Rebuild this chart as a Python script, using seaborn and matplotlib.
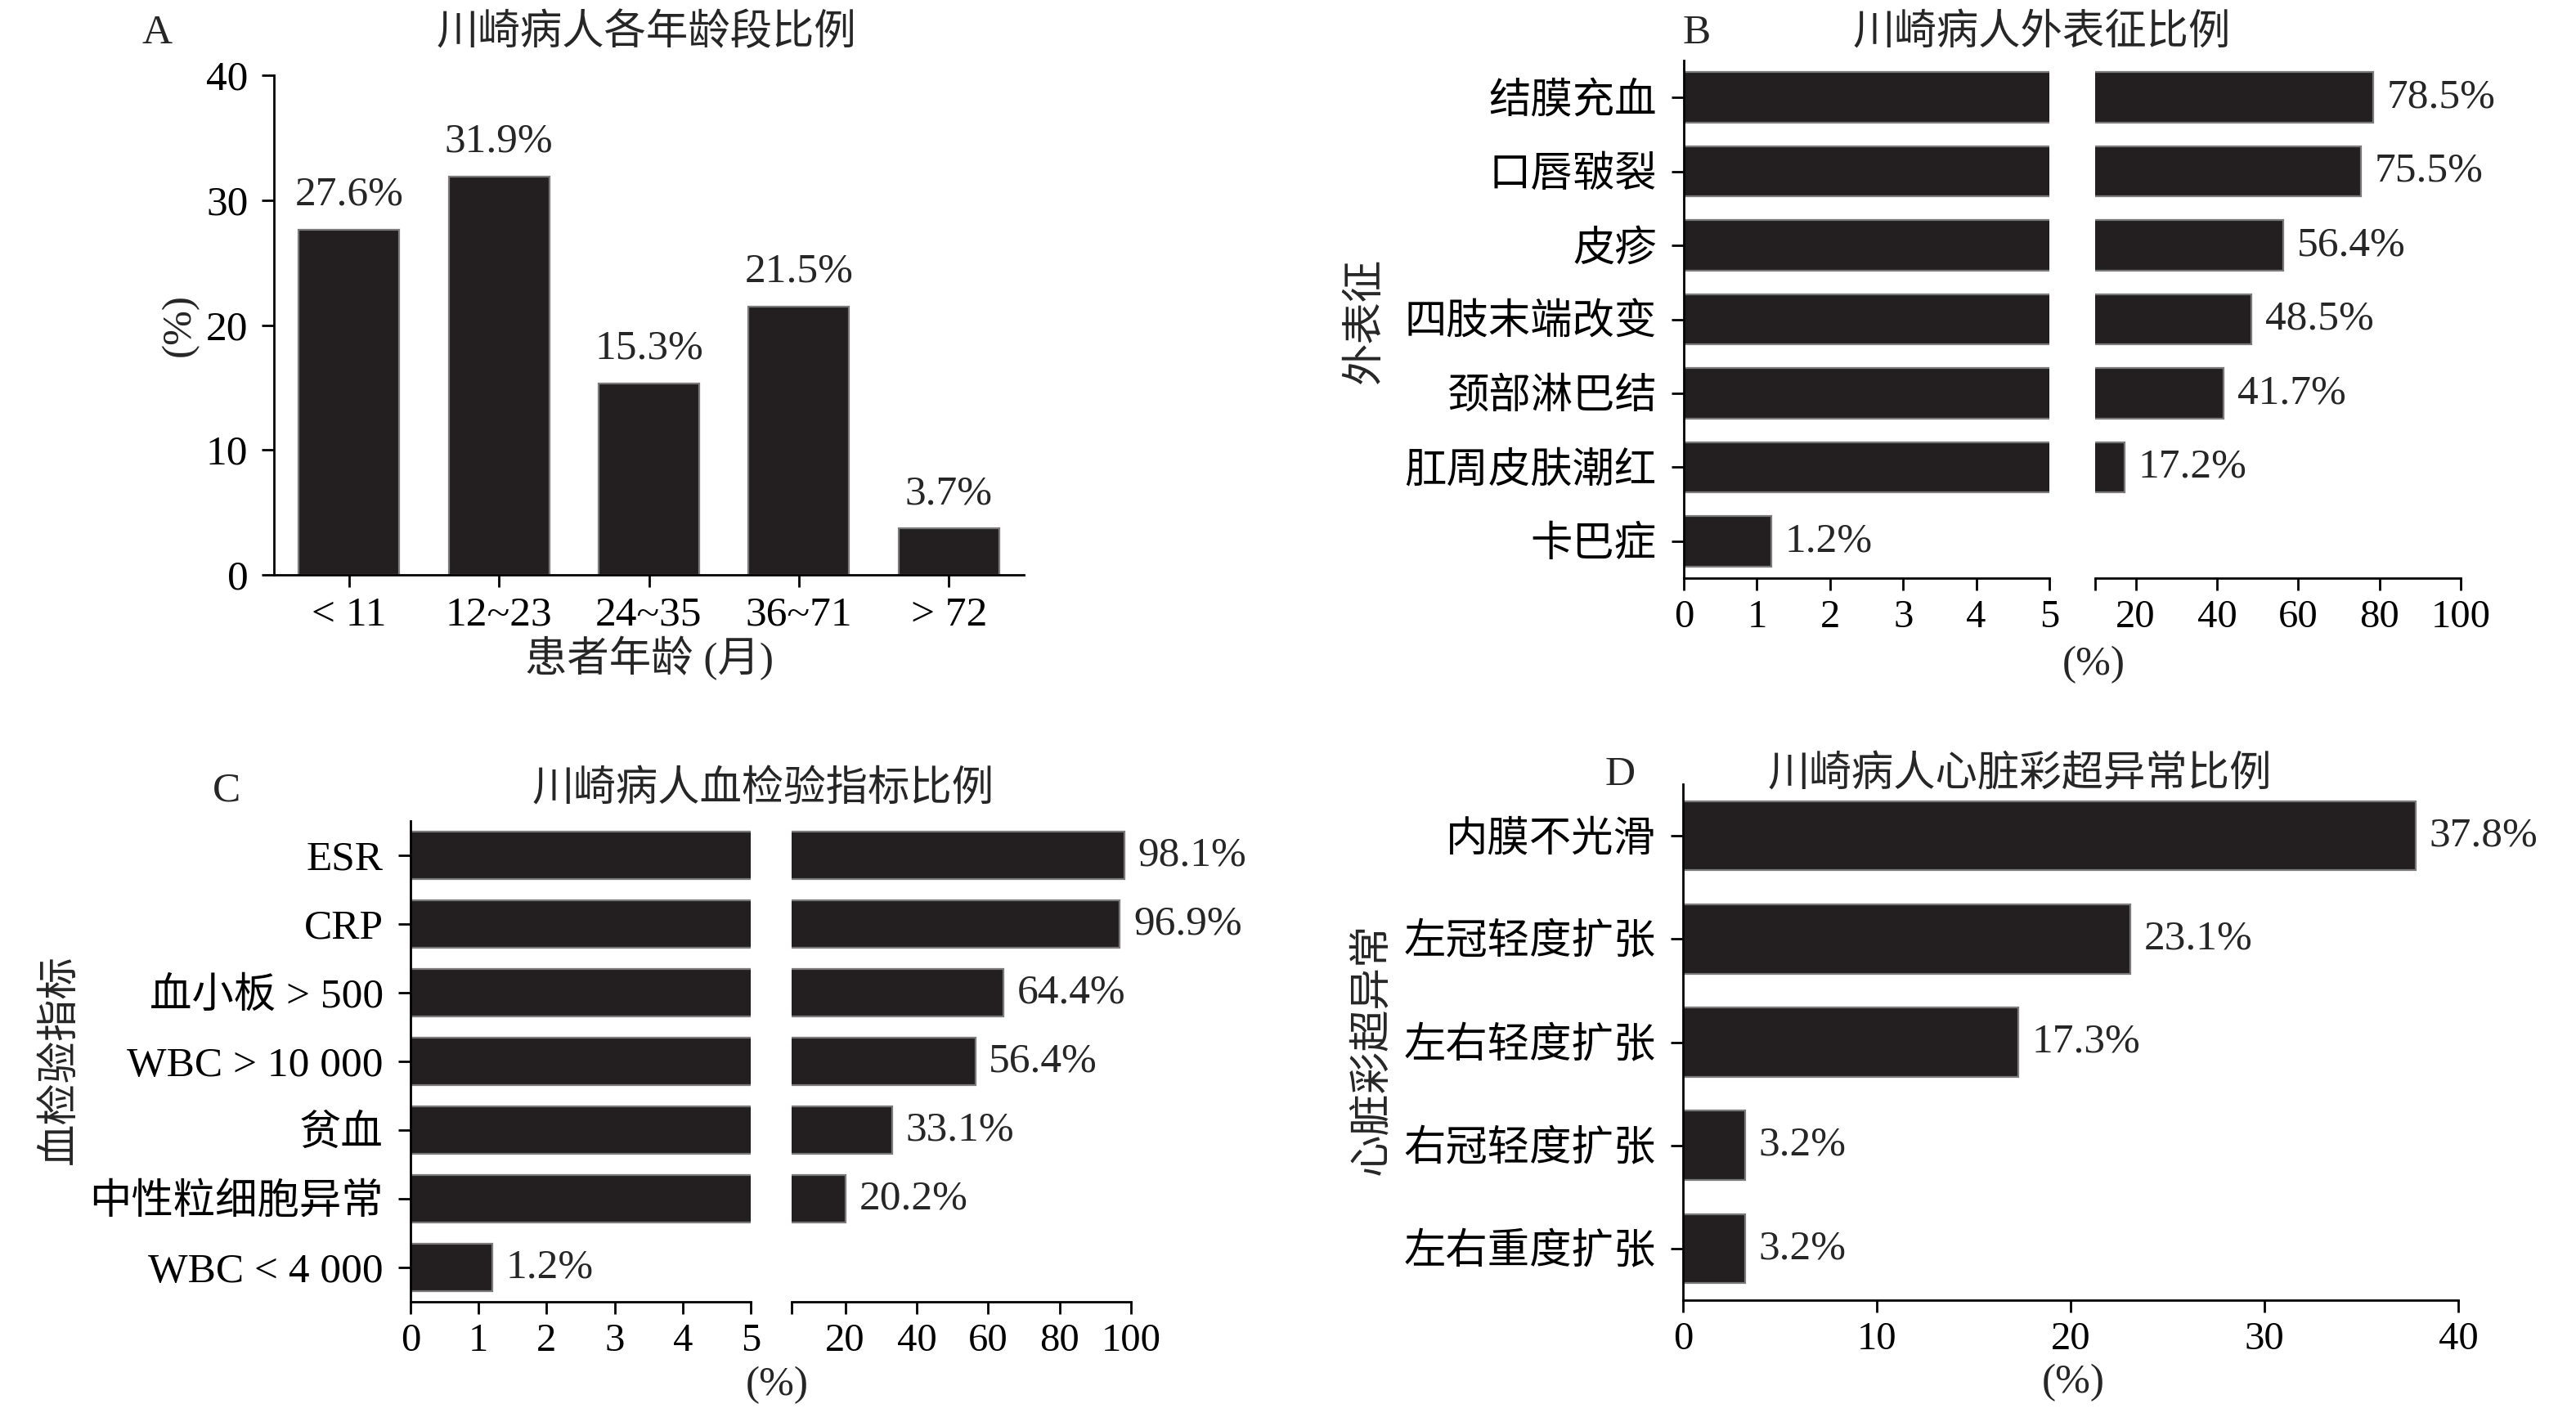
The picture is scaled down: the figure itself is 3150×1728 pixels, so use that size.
import matplotlib
matplotlib.use('Agg')
import matplotlib.pyplot as plt
import seaborn as sns

# ---------------- data ----------------
age_groups = ['< 11', '12~23', '24~35', '36~71', '> 72']
age_pct = [27.6, 31.9, 15.3, 21.5, 3.7]

sign_names = ['结膜充血', '口唇皲裂', '皮疹', '四肢末端改变', '颈部淋巴结', '肛周皮肤潮红', '卡巴症']
sign_pct = [78.5, 75.5, 56.4, 48.5, 41.7, 17.2, 1.2]

blood_names = ['ESR', 'CRP', '血小板 > 500', 'WBC > 10 000', '贫血', '中性粒细胞异常', 'WBC < 4 000']
blood_pct = [98.1, 96.9, 64.4, 56.4, 33.1, 20.2, 1.2]

echo_names = ['内膜不光滑', '左冠轻度扩张', '左右轻度扩张', '右冠轻度扩张', '左右重度扩张']
echo_pct = [37.8, 23.1, 17.3, 3.2, 3.2]

titles = ['川崎病人各年龄段比例', '川崎病人外表征比例', '川崎病人血检验指标比例', '川崎病人心脏彩超异常比例']
letters = ['A', 'B', 'C', 'D']

# ---------------- style ----------------
sns.set_theme(style='ticks')
plt.rcParams['font.family'] = ['Liberation Serif', 'Noto Sans CJK SC', 'DejaVu Sans']
plt.rcParams['axes.linewidth'] = 1.0
plt.rcParams['xtick.major.width'] = 1.0
plt.rcParams['ytick.major.width'] = 1.0
plt.rcParams['xtick.major.size'] = 5.4
plt.rcParams['ytick.major.size'] = 5.4
plt.rcParams['xtick.color'] = 'black'
plt.rcParams['ytick.color'] = 'black'
plt.rcParams['axes.edgecolor'] = 'black'

BAR = '#231f20'
EDGE = '#7a7a7a'
FS = 18.5      # CJK / labels
NFS = 17.5     # numeric tick labels
VFS = 18.5     # value labels
TFS = 18.5     # titles

W, H = 3150, 1728
DPI = 200
fig = plt.figure(figsize=(W / DPI, H / DPI), dpi=DPI)
fig.patch.set_facecolor('white')


def rect(l, r, t, b):
    return [l / W, 1 - b / H, (r - l) / W, (b - t) / H]


def ftext(x, y, s, **kw):
    kw.setdefault('fontsize', FS)
    kw.setdefault('ha', 'center')
    kw.setdefault('va', 'center')
    fig.text(x / W, 1 - y / H, s, **kw)


def style_ax(ax, left=True):
    sns.despine(ax=ax, top=True, right=True, left=not left)
    ax.set_xlabel('')
    ax.set_ylabel('')
    ax.set_facecolor('white')
    ax.grid(False)


# ---------------- Panel A ----------------
axA = fig.add_axes(rect(335, 1252, 92, 703))
sns.barplot(x=age_groups, y=age_pct, color=BAR, saturation=1, width=0.67,
            edgecolor=EDGE, linewidth=0.8, ax=axA)
axA.set_xlim(-0.5, 4.5)
axA.set_ylim(0, 40)
axA.set_yticks([0, 10, 20, 30, 40])
style_ax(axA)
axA.tick_params(axis='x', labelsize=FS, pad=4)
axA.tick_params(axis='y', labelsize=NFS + 1, pad=6)
axA.bar_label(axA.containers[0], labels=[f'{v}%' for v in age_pct], padding=7, fontsize=VFS)
ftext(192, 41, letters[0])
ftext(790, 41, titles[0], fontsize=TFS)
ftext(220, 398, '(%)', rotation=90)
ftext(794, 805, '患者年龄 (月)')


# ---------------- broken-axis horizontal bars ----------------
def broken_panel(names, vals, l1, r1, l2, r2, top, bottom, right_start):
    ax1 = fig.add_axes(rect(l1, r1, top, bottom))
    ax2 = fig.add_axes(rect(l2, r2, top, bottom))
    for ax in (ax1, ax2):
        sns.barplot(x=vals, y=names, orient='h', color=BAR, saturation=1, width=0.68,
                    edgecolor=EDGE, linewidth=0.8, ax=ax)
        ax.set_ylim(len(names) - 0.5, -0.5)
    ax1.set_xlim(0, 5)
    ax1.set_xticks([0, 1, 2, 3, 4, 5])
    style_ax(ax1)
    ax1.tick_params(axis='x', labelsize=NFS, pad=4)
    ax1.tick_params(axis='y', labelsize=FS, pad=6.5)
    ax2.set_xlim(right_start, 100)
    ax2.set_xticks([right_start, 20, 40, 60, 80, 100])
    ax2.set_xticklabels(['', '20', '40', '60', '80', '100'])
    style_ax(ax2, left=False)
    ax2.tick_params(axis='x', labelsize=NFS, pad=4)
    ax2.set_yticks([])
    ax1.bar_label(ax1.containers[0], labels=[f'{v}%' if v < 5 else '' for v in vals],
                  padding=6, fontsize=VFS)
    ax2.bar_label(ax2.containers[0], labels=[f'{v}%' if v >= right_start else '' for v in vals],
                  padding=6, fontsize=VFS)
    return ax1, ax2


broken_panel(sign_names, sign_pct, 2059, 2506, 2562, 3009, 74, 707, 10)
ftext(2075, 41, letters[1])
ftext(2497, 41, titles[1], fontsize=TFS)
ftext(1670, 393, '外表征', rotation=90)
ftext(2560, 813, '(%)')

broken_panel(blood_names, blood_pct, 502, 918, 968, 1383, 1004, 1592, 5)
ftext(277, 967, letters[2])
ftext(933, 967, titles[2], fontsize=TFS)
ftext(74, 1296, '血检验指标', rotation=90)
ftext(950, 1694, '(%)')

# ---------------- Panel D ----------------
axD = fig.add_axes(rect(2058, 3006, 959, 1590))
sns.barplot(x=echo_pct, y=echo_names, orient='h', color=BAR, saturation=1, width=0.67,
            edgecolor=EDGE, linewidth=0.8, ax=axD)
axD.set_ylim(len(echo_names) - 0.5, -0.5)
axD.set_xlim(0, 40)
axD.set_xticks([0, 10, 20, 30, 40])
style_ax(axD)
axD.tick_params(axis='x', labelsize=NFS, pad=4)
axD.tick_params(axis='y', labelsize=FS, pad=6.5)
axD.bar_label(axD.containers[0], labels=[f'{v}%' for v in echo_pct], padding=6, fontsize=VFS)
ftext(1981, 948, letters[3])
ftext(2470, 948, titles[3], fontsize=TFS)
ftext(1678, 1283, '心脏彩超异常', rotation=90)
ftext(2535, 1691, '(%)')

fig.savefig('out.png', dpi=DPI, facecolor='white')
